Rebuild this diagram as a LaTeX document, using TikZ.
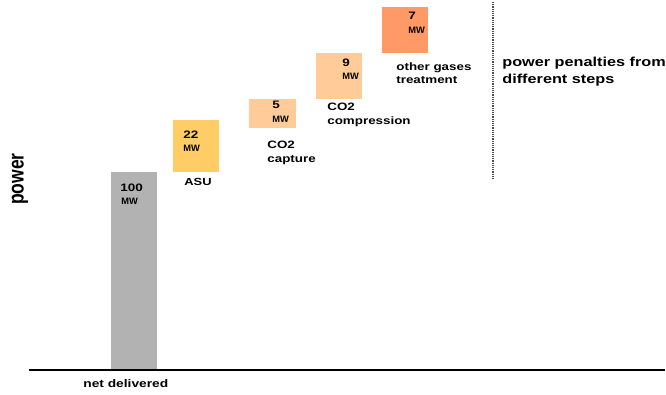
\documentclass[tikz,border=0pt]{standalone}
\usepackage{fontspec}
\setmainfont{Liberation Sans}[FakeStretch=1.25]
\newfontfamily\uprightsans{Liberation Sans}

\definecolor{netGray}{HTML}{B2B2B2}
\definecolor{asuYellow}{HTML}{FFCC66}
\definecolor{coPeach}{HTML}{FFCC99}
\definecolor{gasOrange}{HTML}{FF9966}

\tikzset{every picture/.style={line width=0.75pt}}
\tikzset{
  valtext/.style={anchor=base west,inner sep=0pt,font=\fontsize{10.8}{12}\selectfont\bfseries},
  unittext/.style={anchor=base west,inner sep=0pt,font=\uprightsans\fontsize{9.3}{10}\selectfont\bfseries},
  steplabel/.style={anchor=north west,inner sep=0pt,align=left,font=\fontsize{10.7}{13.5}\selectfont\bfseries},
  heading/.style={anchor=north west,inner sep=0pt,align=left,font=\fontsize{13}{17.5}\selectfont\bfseries}
}

\begin{document}
\begin{tikzpicture}[x=1pt,y=1pt,yscale=-1,xscale=1]
        \useasboundingbox (0,0) rectangle (666,394);

        %Bars
        \fill[netGray] (111,172) rectangle (157,370);
        \fill[asuYellow] (173,120) rectangle (219,172);
        \fill[coPeach] (249,99) rectangle (296,128);
        \fill[coPeach] (316,53) rectangle (362,99);
        \fill[gasOrange] (382,7) rectangle (428,53);

        %Base line
        \draw[line width=2.5pt] (29,370) -- (665,370);
        %Dotted separator
        \draw[line width=1.5pt,gray!60!black,dash pattern=on 1.2pt off 1pt] (493,2) -- (493,180);

        % Text Node
        \node[valtext] (netval) at (120,191) {100};
        \node[unittext] (netunit) at (121,204) {MW};
        % Text Node
        \node[valtext] (asuval) at (183,138) {22};
        \node[unittext] (asuunit) at (183,151) {MW};
        % Text Node
        \node[valtext] (capval) at (272,108) {5};
        \node[unittext] (capunit) at (272,122) {MW};
        % Text Node
        \node[valtext] (compval) at (342,66) {9};
        \node[unittext] (compunit) at (342,79) {MW};
        % Text Node
        \node[valtext] (gasval) at (408,19) {7};
        \node[unittext] (gasunit) at (408,33) {MW};

        % Text Node
        \node[anchor=base west,inner sep=0pt,font=\fontsize{11}{12}\selectfont\bfseries] (netlab) at (83,387) {net delivered};
        % Text Node
        \node[anchor=base west,inner sep=0pt,font=\fontsize{10.3}{12}\selectfont\bfseries] (asulab) at (184,185) {ASU};
        % Text Node
        \node[steplabel] (caplab) at (267,140.8) {CO2\\capture};
        % Text Node
        \node[steplabel] (complab) at (327,103) {CO2\\compression};
        % Text Node
        \node[steplabel] (gaslab) at (396,62) {other gases\\treatment};
        % Text Node
        \node[heading] (penalty) at (502,56.5) {power penalties from\\different steps};
        % Text Node
        \node[inner sep=0pt] (powerax) at (20,179) {\scalebox{1.25}[1]{\rotatebox{90}{\uprightsans\fontsize{17.5}{20}\selectfont\bfseries power}}};

\end{tikzpicture}
\end{document}
